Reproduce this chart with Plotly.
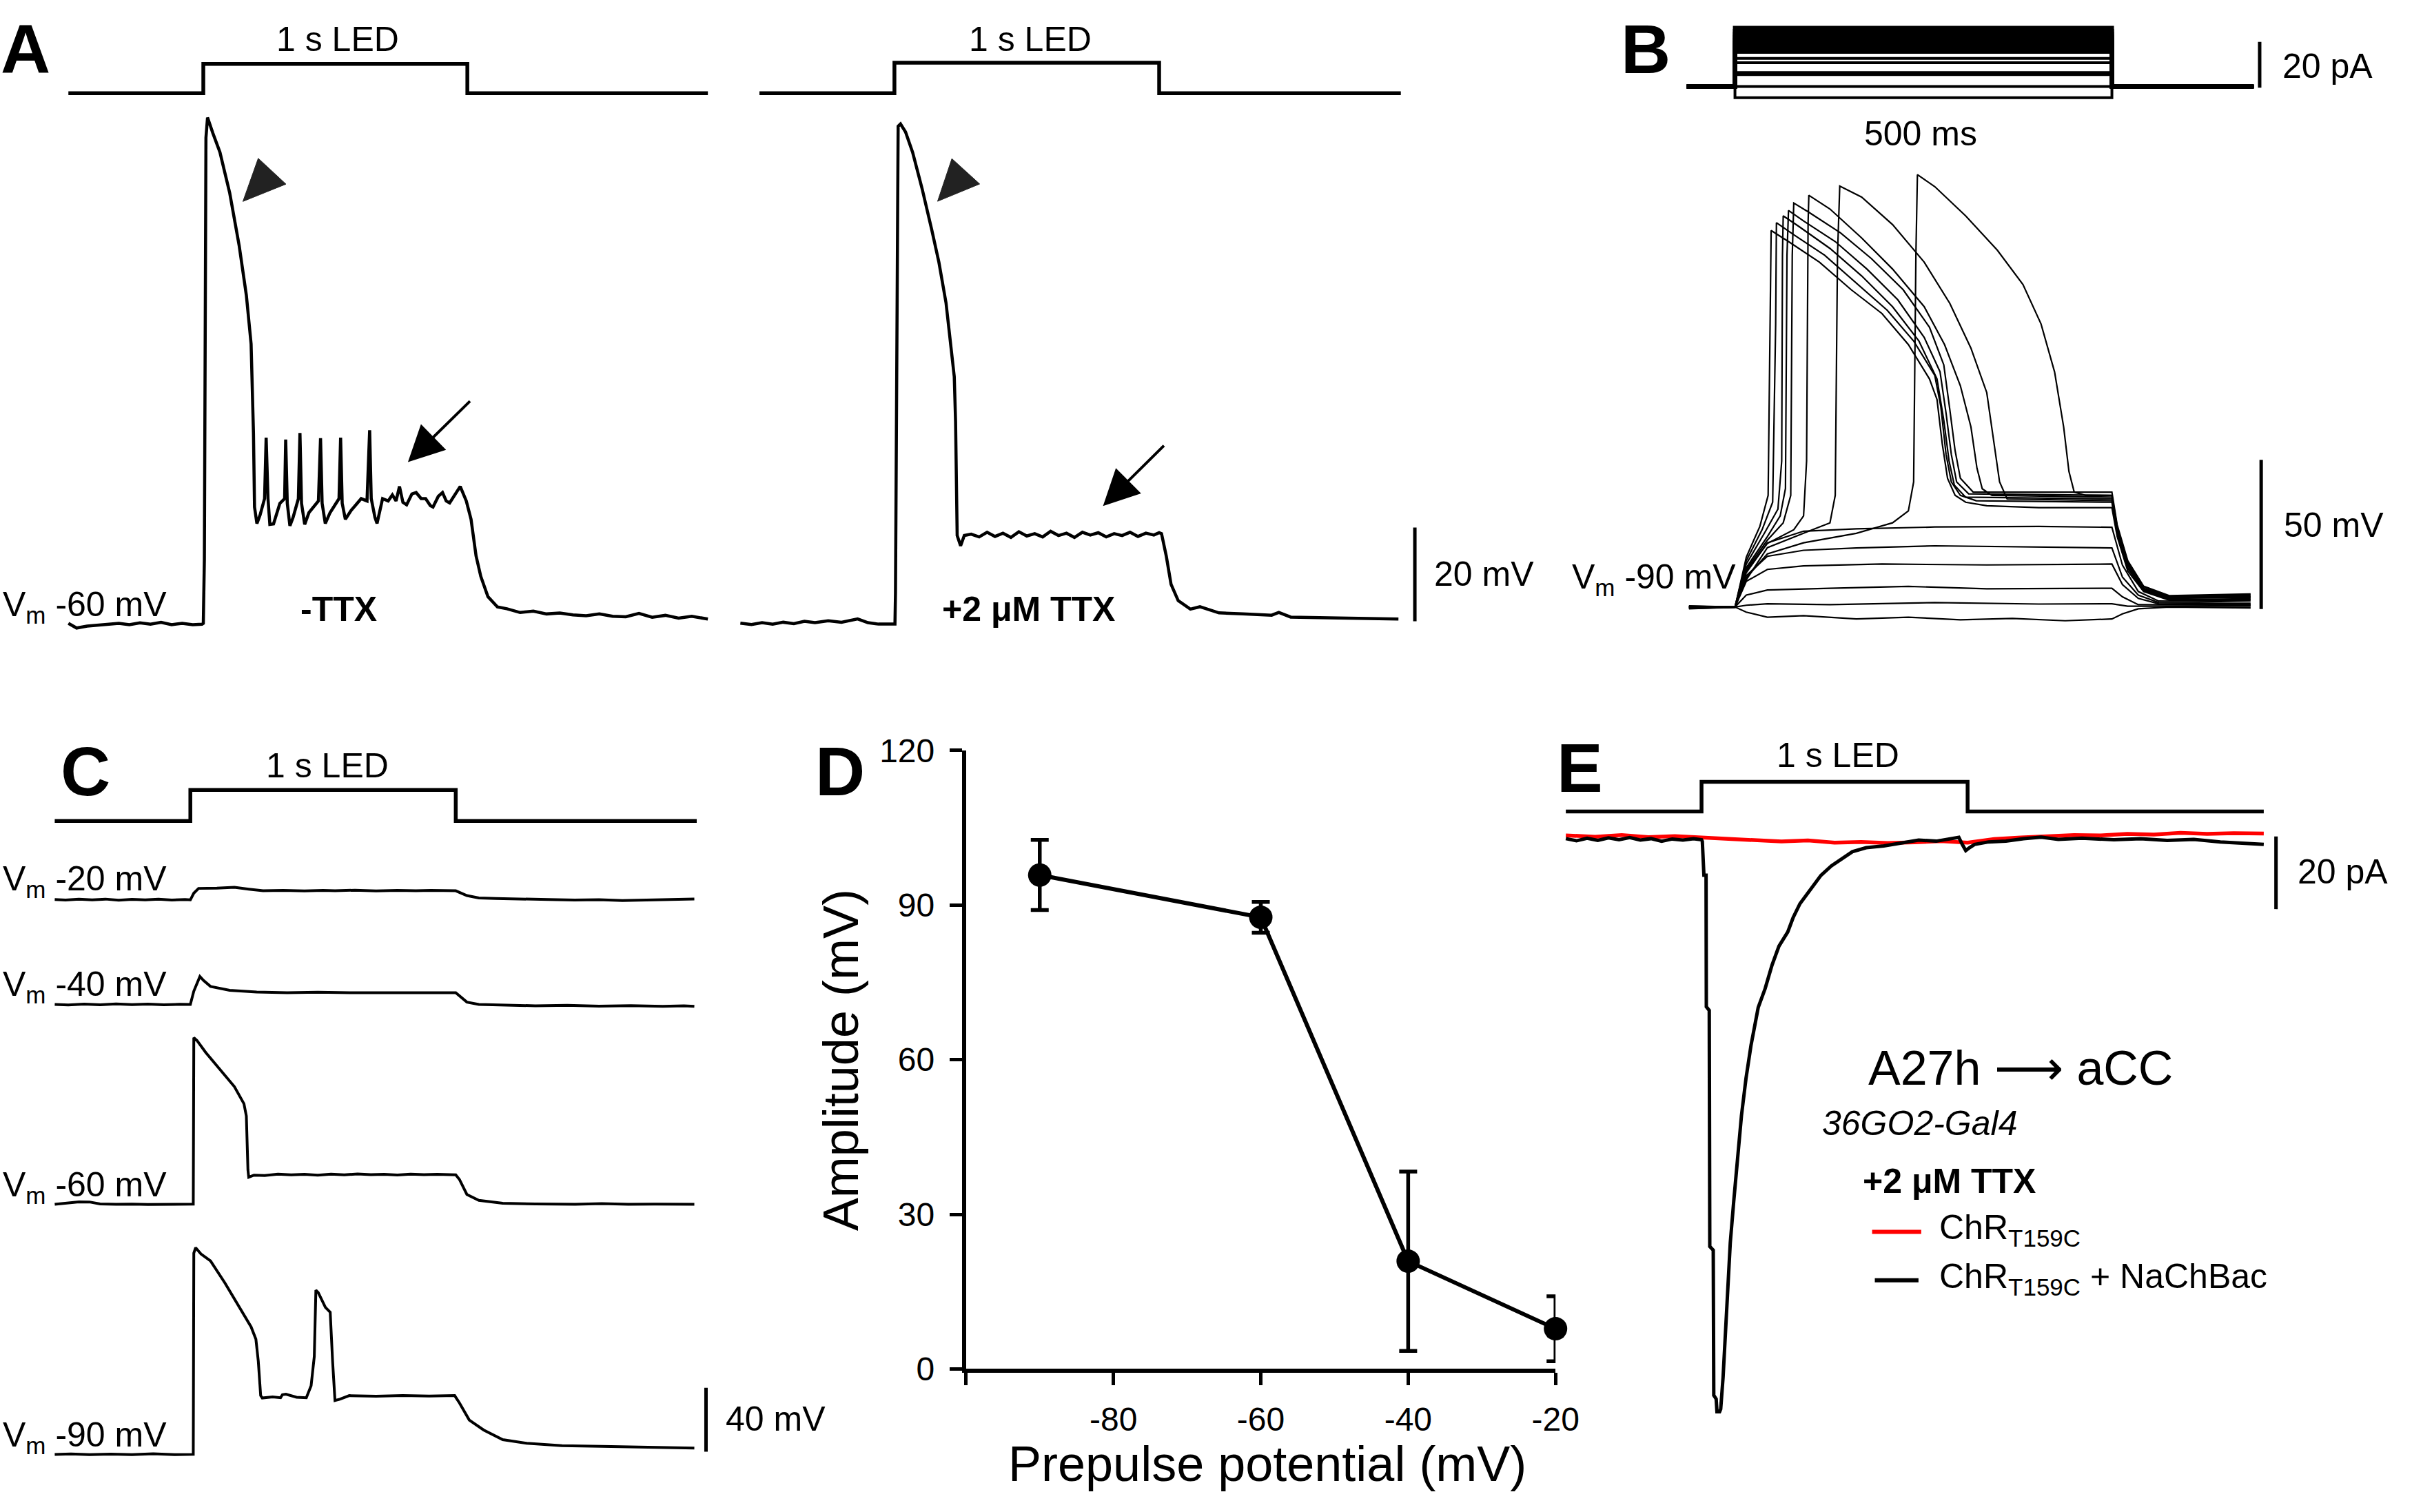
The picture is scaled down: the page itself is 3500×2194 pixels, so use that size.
import plotly.graph_objects as go

W, H = 3500, 2194
FONT = "Liberation Sans, Arial, sans-serif"

# ======================= DATA =======================
# LED protocol (0 = off, 1 = on); time in ms
LED_LEVEL = [0, 0, 1, 1, 0, 0]
A_LEFT_LED_T = [-511, 0, 0, 1000, 1000, 1911]
A_RIGHT_LED_T = [-510, 0, 0, 1000, 1000, 1913]
C_LED_T = [-511, 0, 0, 1000, 1000, 1908]
E_LED_T = [-510, 0, 0, 1000, 1000, 2113]

# Panel A, -TTX  (ms, mV)
A_LEFT_TRACE = [(-511, -59.6), (-480, -60.6), (-440, -60.2), (-400, -60.0), (-360, -59.8), (-320, -59.6),
                (-280, -59.9), (-240, -59.5), (-200, -59.8), (-160, -59.4), (-120, -59.9), (-80, -59.6),
                (-40, -59.9), (-5, -59.8), (0, -59.6), (4, -46), (10, 44), (16, 48.3), (36, 45), (63, 40.9),
                (100, 32.2), (136, 20.9), (163, 10.4), (181, 0), (190, -19.1), (194, -34.8), (203, -38.3),
                (215, -36.5), (232, -33), (238, -20), (245, -33), (252, -38.5), (266, -38.4), (290, -34),
                (308, -33), (312, -20.4), (318, -34), (328, -38.8), (340, -37), (360, -33), (366, -19),
                (372, -34), (384, -38.5), (400, -36), (436, -33.5), (444, -20.1), (450, -34), (462, -38.3),
                (480, -36), (514, -33), (520, -20), (526, -34), (538, -37.4), (560, -35.5), (598, -33),
                (620, -33.5), (630, -18.4), (636, -33), (650, -37), (658, -38.3), (679, -33), (700, -33.5),
                (716, -32.2), (730, -33.5), (743, -30.4), (756, -33.8), (770, -34.3), (790, -32), (806, -31.7),
                (825, -33), (842, -33), (860, -34.5), (870, -34.8), (890, -32.5), (906, -31.7), (920, -33.5),
                (933, -33.9), (950, -32.5), (973, -30.4), (996, -33.5), (1014, -37.4), (1033, -45.2),
                (1051, -49.6), (1078, -53.9), (1114, -56.1), (1150, -56.5), (1200, -57.3), (1250, -57.0),
                (1300, -57.6), (1350, -57.4), (1400, -57.8), (1450, -58.0), (1500, -57.6), (1550, -58.1),
                (1600, -58.2), (1650, -57.5), (1700, -58.3), (1750, -57.9), (1800, -58.5), (1850, -58.1),
                (1911, -58.7)]

# Panel A, +2 uM TTX (ms, mV)
A_RIGHT_TRACE = [(-582, -60), (-540, -60.3), (-500, -59.9), (-460, -60.2), (-420, -59.8), (-380, -60.1),
                 (-340, -59.6), (-300, -59.9), (-250, -59.5), (-200, -59.8), (-139, -59.1), (-100, -59.9),
                 (-60, -60.2), (-20, -60.2), (2, -60.2), (4, -53.5), (8, -17), (14, 46), (23, 46.5), (42, 44.8),
                 (69, 40.4), (105, 32.6), (141, 23.9), (168, 17), (195, 8.3), (213, -0.4), (226, -7.4),
                 (231, -17), (237, -41.3), (250, -43.5), (264, -41.3), (290, -41.0), (320, -41.6), (350, -40.6),
                 (380, -41.5), (410, -40.8), (440, -41.7), (470, -40.5), (500, -41.4), (530, -40.9),
                 (560, -41.6), (590, -40.4), (620, -41.3), (650, -40.8), (680, -41.7), (710, -40.6),
                 (740, -41.2), (770, -40.7), (800, -41.6), (830, -40.9), (860, -41.3), (890, -40.6),
                 (920, -41.5), (950, -40.8), (980, -41.2), (1000, -40.7), (1009, -40.9), (1027, -45.7),
                 (1045, -51.7), (1072, -55.2), (1118, -57), (1154, -56.5), (1226, -57.8), (1316, -58),
                 (1425, -58.3), (1452, -57.7), (1497, -58.7), (1678, -58.9), (1904, -59.1)]

# Panel B, current-step protocol (ms, pA)
B_STEP_T = [-64, 0, 0, 500, 500, 688]
B_CURRENT_LEVELS = [-4.9, 0, 5.2, 6.1, 10.4, 12.3, 15.2, 16.5, 17.8, 19.1, 20.4, 21.7, 23.0, 24.3, 25.6]

# Panel B, voltage responses (ms, mV)
B_SUB_1 = [(-61, -90), (0, -90), (15, -91.7), (43, -93.4), (91, -92.9), (161, -94), (230, -93.4), (299, -94.3),
           (368, -93.8), (438, -94.6), (500, -94), (514, -92.3), (535, -90.6), (576, -90), (684, -90.3)]
B_SUB_2 = [(-61, -90.3), (0, -90), (15, -89.4), (43, -88.9), (126, -89.2), (265, -88.5), (403, -89), (500, -88.9),
           (521, -89.7), (684, -89.7)]
B_SUB_3 = [(-61, -89.8), (0, -90), (15, -86), (43, -84.3), (126, -83.7), (230, -83.1), (334, -83.9), (500, -83.7),
           (514, -86.6), (535, -89.2), (684, -89.4)]
B_SUB_4 = [(-61, -90.1), (0, -90), (15, -81.4), (43, -77.4), (91, -76.2), (195, -75.6), (334, -75.9), (500, -75.6),
           (514, -82.5), (535, -87.1), (562, -88.9), (684, -89.2)]
B_SUB_5 = [(-61, -90), (0, -90), (15, -79.5), (43, -73), (91, -71), (161, -70.2), (265, -69.5), (368, -69.8),
           (500, -70.2), (514, -80), (535, -86), (562, -88.5), (684, -88.9)]
B_SUB_6 = [(-61, -89.9), (0, -90), (15, -78.5), (43, -68.5), (91, -64.6), (161, -63.8), (265, -63.2), (403, -63),
           (500, -63.3), (514, -76), (535, -84.8), (562, -88), (684, -88.3)]
B_SPK_1 = [(-61, -90.4), (0, -90.2), (15, -73.3), (33, -63), (44, -52.6), (47, 4.8), (48, 36.1), (71, 32.4),
           (112, 25.5), (154, 16.3), (195, 8.3), (230, -2.1), (258, -13.6), (268, -20.5), (275, -35.4),
           (282, -46.9), (292, -52.6), (306, -54.9), (334, -56.1), (403, -56.7), (500, -56.7), (507, -66.4),
           (521, -77.9), (542, -84.8), (576, -87.7), (684, -87.7)]
B_SPK_2 = [(-61, -89.8), (0, -90), (15, -74.5), (36, -64.1), (50, -54.9), (54, 4.8), (55, 38.7), (78, 34.7),
           (119, 27.8), (161, 18.6), (202, 9.4), (237, -0.9), (265, -12.4), (273, -22.8), (280, -38.9),
           (287, -48.1), (299, -52.6), (320, -54.4), (500, -54.9), (507, -65.3), (521, -76.8), (542, -84.3),
           (576, -87.1), (684, -86.6)]
B_SPK_3 = [(-61, -90.6), (0, -90), (15, -75.6), (39, -65.3), (57, -57.2), (62, -41.1), (63, 27.8), (64, 41),
           (84, 37.6), (126, 30.1), (168, 20.9), (209, 10.6), (244, -0.9), (268, -13.6), (277, -27.4),
           (284, -41.1), (291, -49.2), (306, -53.2), (500, -53.8), (507, -64.1), (521, -75.6), (542, -83.7),
           (576, -86.6), (684, -87.1)]
B_SPK_4 = [(-61, -89.6), (0, -90), (15, -76.8), (43, -66.4), (60, -59.5), (67, -50.3), (69, 27.8), (71, 42.8),
           (91, 39.3), (133, 32.4), (175, 23.2), (216, 12.9), (251, 0.3), (272, -11.2), (280, -25.1),
           (287, -38.9), (294, -48.1), (310, -52.1), (500, -52.6), (507, -63.5), (521, -75), (542, -83.2),
           (576, -86.4), (684, -86)]
B_SPK_5 = [(-61, -90.2), (0, -90), (15, -77.4), (43, -67.6), (64, -61.8), (74, -52.6), (76, 27.8), (78, 45.3),
           (98, 42.2), (140, 35.3), (181, 26.7), (223, 16.3), (258, 3.7), (277, -8.9), (285, -23.9),
           (292, -37.6), (299, -46.9), (316, -51.5), (500, -51.5), (507, -62.5), (521, -74.5), (542, -83),
           (576, -86.2), (684, -85.6)]
B_SPK_6 = [(-61, -90), (0, -90), (15, -77.9), (43, -68.7), (78, -64.1), (91, -59.5), (95, -41.1), (97, 38.7),
           (98, 47.9), (126, 43.3), (168, 33.6), (209, 23.2), (251, 10.6), (278, -2.1), (299, -15.9),
           (313, -29.7), (321, -43.5), (328, -50.4), (341, -52.6), (500, -53.2), (507, -64), (521, -76),
           (542, -84), (576, -86.8), (684, -86.9)]
B_SPK_7 = [(-61, -90.5), (0, -90), (15, -80.9), (43, -70.1), (91, -65.3), (126, -61.8), (133, -52.6), (136, 27.8),
           (139, 51), (168, 47.3), (209, 38.1), (251, 25.5), (285, 11.7), (313, -3.3), (334, -18.2),
           (344, -35.4), (351, -48.1), (361, -53.8), (500, -54.4), (507, -65), (521, -77), (542, -84.5),
           (576, -87.3), (684, -87.5)]
B_SPK_8 = [(-61, -89.7), (0, -90), (15, -80.2), (43, -72.2), (91, -68.5), (161, -65.3), (209, -61.8), (230, -57.8),
           (237, -48.1), (240, 27.8), (242, 54.8), (265, 50.8), (306, 41), (348, 29.5), (382, 18), (406, 4.8),
           (424, -11.3), (436, -29.7), (443, -44.6), (450, -51.5), (465, -52.6), (500, -52.6), (507, -63),
           (521, -75.5), (542, -83.8), (576, -86.5), (684, -86.3)]
B_TRACES = [B_SUB_1, B_SUB_2, B_SUB_3, B_SUB_4, B_SUB_5, B_SUB_6,
            B_SPK_1, B_SPK_2, B_SPK_3, B_SPK_4, B_SPK_5, B_SPK_6, B_SPK_7, B_SPK_8]

# Panel C (ms, mV), four holding potentials
C_HOLD_M20 = [(-511, -20), (-470, -20.3), (-420, -19.8), (-370, -20.2), (-320, -19.7), (-270, -20.4),
              (-220, -19.9), (-170, -20.2), (-120, -19.8), (-70, -20.3), (-20, -20), (0, -20.2), (13, -16),
              (31, -13), (100, -12.8), (166, -12.3), (220, -13.5), (274, -14.5), (350, -14.2), (430, -14.6),
              (500, -14.3), (545, -14.5), (620, -14.1), (700, -14.6), (780, -14.3), (850, -14.5), (906, -14.2),
              (960, -14.6), (1000, -14.5), (1042, -17.5), (1087, -19), (1150, -19.3), (1250, -19.8),
              (1350, -20), (1448, -20.3), (1540, -20.1), (1628, -20.6), (1720, -20.4), (1800, -20.2),
              (1899, -19.6)]
C_HOLD_M40 = [(-511, -40), (-460, -40.3), (-400, -39.8), (-340, -40.2), (-280, -39.7), (-220, -40.1),
              (-160, -39.8), (-100, -40.2), (-40, -39.9), (0, -40), (13, -31.7), (36, -22.5), (50, -25),
              (76, -28.7), (148, -31.1), (250, -32.2), (365, -32.6), (480, -32.3), (600, -32.6), (720, -32.4),
              (850, -32.6), (1000, -32.6), (1042, -38.5), (1087, -40), (1180, -40.4), (1300, -40.8),
              (1420, -40.5), (1540, -41), (1660, -40.7), (1780, -41.2), (1860, -40.8), (1899, -41.2)]
C_HOLD_M60 = [(-511, -60), (-470, -59.5), (-420, -58.5), (-380, -58.6), (-340, -59.8), (-280, -60.1),
              (-220, -59.9), (-160, -60.2), (-100, -60), (-40, -60.1), (0, -60), (11, -60), (13, 44.3),
              (25, 42.5), (58, 35), (112, 24.4), (166, 13.6), (202, 2.9), (211, -4.8), (217, -38.5),
              (220, -43.1), (240, -41.8), (280, -42), (330, -41.2), (380, -41.6), (430, -41.3), (480, -41.8),
              (530, -41.2), (580, -41.6), (630, -41.1), (680, -41.5), (730, -41.3), (780, -41.7), (830, -41.2),
              (880, -41.5), (930, -41.3), (1000, -41.6), (1014, -44.5), (1042, -53.9), (1087, -57.6),
              (1177, -59.4), (1300, -59.8), (1450, -60), (1550, -59.6), (1650, -60.1), (1750, -59.9),
              (1899, -60)]
C_HOLD_M90 = [(-511, -90), (-450, -89.7), (-380, -90.2), (-300, -89.8), (-220, -90.1), (-140, -89.6),
              (-60, -90.2), (0, -90), (11, -90), (13, 36), (20, 39.4), (40, 35.5), (76, 31.1), (130, 17.4),
              (184, 2), (229, -10.2), (247, -17.9), (256, -31.7), (265, -53.2), (271, -54.7), (310, -54),
              (340, -54.5), (347, -52.6), (360, -52.3), (400, -54.2), (437, -54.5), (455, -47), (467, -28.7),
              (473, 12.8), (482, 11.3), (509, 2), (527, -1), (536, -31.7), (545, -56.3), (563, -55.5),
              (599, -53.2), (700, -53.6), (800, -53.1), (900, -53.5), (996, -53.2), (1014, -57.8),
              (1051, -68.5), (1105, -74.7), (1177, -80.8), (1267, -83), (1400, -84.5), (1550, -85),
              (1700, -85.5), (1899, -86)]

# Panel D
D_PREPULSE = [-90, -60, -40, -20]
D_AMPLITUDE = [95.8, 87.6, 20.9, 7.8]
D_SEM = [6.8, 3.0, 17.4, 6.3]
D_XTICKS = [-100, -80, -60, -40, -20]
D_XTICKTEXT = ["", "-80", "-60", "-40", "-20"]
D_YTICKS = [0, 30, 60, 90, 120]

# Panel E (ms, pA)
E_NACHBAC = [(-510, 0.3), (-470, -0.3), (-430, 0.4), (-390, -0.2), (-350, 0.5), (-310, 0.0), (-270, 0.6),
             (-230, -0.1), (-190, 0.3), (-150, -0.4), (-110, 0.2), (-70, -0.1), (-30, 0.3), (0, 0.0), (3, -0.5),
             (9, -9.8), (17, -9.8), (18, -46), (29, -47), (31, -112), (44, -113), (46, -153), (55, -154),
             (58, -157.5), (68, -157.5), (72, -156.8), (81, -148), (92, -134), (98, -124), (108, -111),
             (121, -99.6), (134, -88), (150, -76), (167, -65.8), (186, -56.6), (213, -46.2), (239, -41),
             (265, -34.5), (291, -29.3), (324, -25.4), (344, -21.5), (370, -17.6), (409, -13.7), (449, -9.8),
             (488, -7.2), (528, -5.2), (567, -3.3), (619, -2.2), (685, -1.7), (751, -0.9), (816, -0.1),
             (882, -0.4), (948, 0.4), (967, 0.65), (980, -1.3), (993, -3.0), (1007, -2.2), (1026, -1.3),
             (1079, -0.6), (1144, -0.4), (1210, 0.3), (1276, 0.7), (1341, 0.1), (1430, 0.4), (1550, 0.0),
             (1650, 0.3), (1750, -0.2), (1850, 0.1), (1950, -0.6), (2050, -1.0), (2113, -1.3)]
E_CHR_ONLY = [(-510, 1.2), (-400, 0.8), (-300, 1.3), (-200, 0.7), (-100, 1.0), (0, 0.6), (100, 0.2), (200, -0.3),
              (300, -0.5), (400, -0.2), (500, -0.8), (600, -0.6), (700, -0.9), (800, -0.7), (900, -0.4),
              (1000, -0.8), (1100, 0.2), (1200, 0.6), (1300, 1.0), (1400, 1.3), (1500, 1.2), (1600, 1.6),
              (1700, 1.4), (1800, 1.9), (1900, 1.6), (2000, 1.8), (2113, 1.7)]

# Scale bars (time position, start value, length)
A_BAR = (1966, -59.6, 20)     # 20 mV
B_I_BAR = (696, -0.5, 20)     # 20 pA
B_V_BAR = (698, -90.7, 50)    # 50 mV
C_BAR = (1943, -88.3, 40)     # 40 mV
E_BAR = (2159, 0.9, -20)      # 20 pA


# ======================= LAYOUT HELPERS =======================
def xdom(left, right, ref_val, ref_px, ppu):
    return dict(domain=[left / W, right / W],
                range=[ref_val - (ref_px - left) / ppu, ref_val + (right - ref_px) / ppu])


def ydom(top, bot, ref_val, ref_px, ppu):
    return dict(domain=[1 - bot / H, 1 - top / H],
                range=[ref_val - (bot - ref_px) / ppu, ref_val + (ref_px - top) / ppu])


HIDDEN = dict(visible=False, fixedrange=True, showgrid=False, zeroline=False)


def hx(anchor, **kw):
    d = dict(HIDDEN)
    d.update(kw)
    d["anchor"] = anchor
    return d


fig = go.Figure()


def line(pairs_or_xy, xa, ya, width=4.5, color="black"):
    if isinstance(pairs_or_xy, tuple):
        xs, ys = pairs_or_xy
    else:
        xs = [p[0] for p in pairs_or_xy]
        ys = [p[1] for p in pairs_or_xy]
    fig.add_trace(go.Scatter(x=xs, y=ys, mode="lines", xaxis=xa, yaxis=ya,
                             line=dict(color=color, width=width), showlegend=False,
                             hoverinfo="skip"))


def bar(spec, xa, ya, width=5):
    t, v0, length = spec
    line(([t, t], [v0, v0 + length]), xa, ya, width=width)


# ---- Panel A
line((A_LEFT_LED_T, LED_LEVEL), "x", "y2", width=5.5)
line(A_LEFT_TRACE, "x", "y", width=4.5)
line((A_RIGHT_LED_T, LED_LEVEL), "x2", "y4", width=5.5)
line(A_RIGHT_TRACE, "x2", "y3", width=4.5)
bar(A_BAR, "x2", "y3", width=5)

# ---- Panel B
for lvl in B_CURRENT_LEVELS:
    line((B_STEP_T, [0, 0, lvl, lvl, 0, 0]), "x3", "y5", width=6 if lvl > 15 else 4)
for tr in B_TRACES:
    line(tr, "x3", "y6", width=2.2)
bar(B_I_BAR, "x3", "y5", width=5)
bar(B_V_BAR, "x3", "y6", width=5)

# ---- Panel C
line((C_LED_T, LED_LEVEL), "x4", "y7", width=5.5)
line(C_HOLD_M20, "x4", "y8", width=4)
line(C_HOLD_M40, "x4", "y9", width=4)
line(C_HOLD_M60, "x4", "y10", width=4)
line(C_HOLD_M90, "x4", "y11", width=4)
bar(C_BAR, "x4", "y11", width=5)

# ---- Panel D
fig.add_trace(go.Scatter(x=D_PREPULSE, y=D_AMPLITUDE, mode="lines+markers", xaxis="x5", yaxis="y12",
                         line=dict(color="black", width=6),
                         marker=dict(color="black", size=34),
                         error_y=dict(type="data", array=D_SEM, color="black", thickness=5.5, width=13),
                         cliponaxis=False, showlegend=False, hoverinfo="skip"))

# ---- Panel E
line((E_LED_T, LED_LEVEL), "x6", "y13", width=5.5)
line(E_CHR_ONLY, "x6", "y14", width=5.5, color="#ff0000")
line(E_NACHBAC, "x6", "y14", width=5, color="black")
bar(E_BAR, "x6", "y14", width=5)

# ======================= AXES =======================
axis_font = dict(family=FONT, size=48, color="black")
layout_axes = dict(
    xaxis=hx("y", **xdom(96, 1045, 0, 298, 0.387)),
    yaxis=hx("x", **ydom(130, 925, -60, 903, 6.97)),
    yaxis2=hx("x", **ydom(40, 140, 0, 112, 43.5)),
    xaxis2=hx("y3", **xdom(1080, 2095, 0, 1311, 0.388)),
    yaxis3=hx("x2", **ydom(130, 925, -60, 900, 6.97)),
    yaxis4=hx("x2", **ydom(40, 140, 0, 112, 45.3)),
    xaxis3=hx("y6", **xdom(2460, 3330, 0, 2543, 1.105)),
    yaxis5=hx("x3", **ydom(2, 130, 0, 102, 3.4)),
    yaxis6=hx("x3", **ydom(210, 910, -90, 876, 4.44)),
    xaxis4=hx("y11", **xdom(70, 1050, 0, 279, 0.389)),
    yaxis7=hx("x4", **ydom(1125, 1215, 0, 1194, 46)),
    yaxis8=hx("x4", **ydom(1265, 1340, -20, 1311, 2.375)),
    yaxis9=hx("x4", **ydom(1415, 1495, -40, 1467, 2.375)),
    yaxis10=hx("x4", **ydom(1500, 1795, -60, 1764, 2.375)),
    yaxis11=hx("x4", **ydom(1810, 2170, -90, 2136, 2.375)),
    xaxis6=hx("y14", **xdom(2285, 3345, 0, 2494, 0.39)),
    yaxis13=hx("x6", **ydom(1110, 1205, 0, 1180, 44)),
    yaxis14=hx("x6", **ydom(1195, 2100, 0, 1222, 5.4)),
    xaxis5=dict(domain=[1416 / W, 2280 / W], range=[-100, -20], anchor="y12",
                showline=True, linewidth=6, linecolor="black", ticks="outside", ticklen=18,
                tickwidth=5, tickcolor="black", tickvals=D_XTICKS, ticktext=D_XTICKTEXT,
                tickfont=axis_font, showgrid=False, zeroline=False, fixedrange=True,
                ticklabelstandoff=8),
    yaxis12=dict(domain=[1 - 2009 / H, 1 - 1089 / H], range=[0, 120], anchor="x5",
                 showline=True, linewidth=6, linecolor="black", ticks="outside", ticklen=18,
                 tickwidth=5, tickcolor="black", tickvals=D_YTICKS, tickfont=axis_font,
                 showgrid=False, zeroline=False, fixedrange=True, ticklabelstandoff=12),
)

# ======================= TEXT =======================
annotations = []


def txt(x, y, text, size=50, xanchor="center", bold=False, italic=False, angle=0):
    if bold:
        text = "<b>" + text + "</b>"
    if italic:
        text = "<i>" + text + "</i>"
    annotations.append(dict(x=x / W, y=1 - y / H, xref="paper", yref="paper", text=text, showarrow=False,
                            xanchor=xanchor, yanchor="middle", textangle=angle,
                            font=dict(family=FONT, size=size, color="black")))


VM = "V<sub>m</sub> "
# panel letters
for letter, (lx, ly) in {"A": (37, 46), "B": (2412, 46), "C": (125, 1120),
                         "D": (1231, 1120), "E": (2316, 1115)}.items():
    txt(lx, ly, letter, size=100, bold=True)

# A
txt(495, 32, "1 s LED")
txt(1510, 32, "1 s LED")
txt(2, 876, VM + "-60 mV", size=50, xanchor="left")
txt(496, 879, "-TTX", size=50, bold=True)
txt(1508, 879, "+2 μM TTX", size=50, bold=True)
txt(2100, 827, "20 mV", size=50, xanchor="left")
# B
txt(3343, 72, "20 pA", size=50, xanchor="left")
txt(2815, 172, "500 ms", size=50)
txt(2302, 835, VM + "-90 mV", size=50, xanchor="left")
txt(3345, 754, "50 mV", size=50, xanchor="left")
# C
txt(480, 1112, "1 s LED")
txt(2, 1283, VM + "-20 mV", size=50, xanchor="left")
txt(2, 1440, VM + "-40 mV", size=50, xanchor="left")
txt(2, 1738, VM + "-60 mV", size=50, xanchor="left")
txt(2, 2110, VM + "-90 mV", size=50, xanchor="left")
txt(1062, 2083, "40 mV", size=50, xanchor="left")
# D
txt(1232, 1550, "Amplitude (mV)", size=72, angle=-90)
txt(1858, 2150, "Prepulse potential (mV)", size=72)
# E
txt(2694, 1096, "1 s LED")
txt(3366, 1270, "20 pA", size=50, xanchor="left")
txt(2736, 1562, "A27h ⟶ aCC", size=70, xanchor="left")
txt(2669, 1644, "36GO2-Gal4", size=50, xanchor="left", italic=True)
txt(2728, 1730, "+2 μM TTX", size=50, xanchor="left", bold=True)
txt(2840, 1802, "ChR<sub>T159C</sub>", size=50, xanchor="left")
txt(2840, 1875, "ChR<sub>T159C</sub> + NaChBac", size=50, xanchor="left")

# arrows in A (data coordinates of tip and tail)
for xr, yr, tip, tail in [("x", "y", (775, -25.2), (1014, -12)),
                          ("x2", "y3", (788, -35.0), (1022, -21.9))]:
    annotations.append(dict(x=tip[0], y=tip[1], xref=xr, yref=yr, ax=tail[0], ay=tail[1],
                            axref=xr, ayref=yr, text="", showarrow=True, arrowhead=2,
                            arrowsize=2.6, arrowwidth=4, arrowcolor="black", standoff=0))

shapes = []
# arrowheads (filled triangles) in A
for xr, yr, tri in [("x", "y", [(208, 39.6), (313, 34.1), (150, 30.4)]),
                    ("x2", "y3", [(217, 39.1), (322, 33.7), (163, 30.0)])]:
    path = "M {} {} L {} {} L {} {} Z".format(*[c for p in tri for c in p])
    shapes.append(dict(type="path", path=path, xref=xr, yref=yr, fillcolor="#222222",
                       line=dict(color="#222222", width=1)))

# legend samples in E
for (x0, x1, y, col) in [(2744, 2816, 1805, "#ff0000"), (2748, 2812, 1877, "black")]:
    yy = 1 - y / H
    shapes.append(dict(type="line", xref="paper", yref="paper", x0=x0 / W, x1=x1 / W, y0=yy, y1=yy,
                       line=dict(color=col, width=6)))

fig.update_layout(
    width=W, height=H, autosize=False,
    margin=dict(l=0, r=0, t=0, b=0, pad=0),
    paper_bgcolor="white", plot_bgcolor="rgba(0,0,0,0)",
    font=dict(family=FONT, color="black"),
    showlegend=False,
    annotations=annotations, shapes=shapes,
    **layout_axes,
)

POST = """
var gd = document.getElementById('{plot_id}');
var de = document.documentElement, bd = document.body;
de.style.margin = '0'; de.style.padding = '0'; de.style.overflow = 'hidden';
bd.style.margin = '0'; bd.style.padding = '0'; bd.style.overflow = 'hidden';
gd.style.position = 'fixed'; gd.style.left = '0px'; gd.style.top = '0px';
"""

fig.write_html("out.html", include_plotlyjs=True, full_html=True,
               config={"displayModeBar": False, "staticPlot": True},
               post_script=POST)
